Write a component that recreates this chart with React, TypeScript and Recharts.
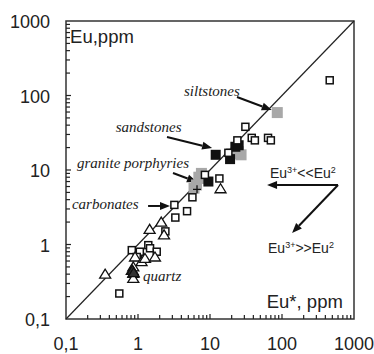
import React from 'react'
import {
  ScatterChart,
  Scatter,
  XAxis,
  YAxis,
  ReferenceLine,
  ReferenceDot,
  ReferenceArea,
} from 'recharts'

// axis ticks (log decades, minor ticks at 2..9)
const DECADES = [0.1, 1, 10, 100]
const STEPS = [1, 2, 3, 4, 5, 6, 7, 8, 9]
const MINOR = DECADES.flatMap((d) => STEPS.map((s) => +(d * s).toPrecision(3))).filter((v) => v !== 0.1)
const MAJOR = [0.1, 1, 10, 100, 1000]
const MAJOR_LABELS = ['0,1', '1', '10', '100', '1000']

// Eu* (x) vs Eu (y), ppm
const openSqX = [460, 31, 38, 42, 64, 70, 24, 18, 13.5, 8.5, 5.7, 3.2, 3.3, 4.8, 2.4, 1.39, 1.47, 1.82, 0.82, 1.06, 0.96, 0.55]
const openSqY = [160, 38, 27, 25, 27, 25, 25, 17, 7.7, 8.6, 4.3, 3.4, 2.3, 2.8, 1.5, 0.98, 0.89, 0.8, 0.84, 0.8, 0.68, 0.22]

const blackSqX = [12, 19, 22.5, 25, 9.5]
const blackSqY = [16, 14, 20.5, 21.5, 7]

const graySqX = [86, 24.7, 27, 20, 8, 7.6, 6.5, 6, 7]
const graySqY = [59, 17.6, 16, 16.5, 7.7, 9, 6.3, 5.7, 8]

const openTriX = [0.35, 1.45, 2.1, 2.3, 0.91, 1.12, 1.25, 1.72, 0.86, 0.82, 0.86, 0.86, 14]
const openTriY = [0.4, 1.6, 2.0, 1.35, 0.68, 0.59, 0.65, 0.68, 0.5, 0.45, 0.41, 0.35, 5.6]

const darkTriX = [0.84, 0.87]
const darkTriY = [0.45, 0.42]

const crossX = [6.6]
const crossY = [5.5]

const zip = (xs: number[], ys: number[]) => xs.map((x, i) => ({ x, y: ys[i] }))
const xTickData = MINOR.map((v) => ({ x: v, y: 0.1 }))
const yTickData = MINOR.map((v) => ({ x: 0.1, y: v }))

const SANS = 'Liberation Sans, Arial, sans-serif'
const SERIF = 'Liberation Serif, Times New Roman, serif'

const openSquare = ({ cx, cy }: any) => (
  <rect x={cx - 3.5} y={cy - 3.5} width={7} height={7} fill='#fff' stroke='#111' strokeWidth={1.5} />
)
const blackSquare = ({ cx, cy }: any) => (
  <rect x={cx - 5} y={cy - 5} width={10} height={10} fill='#111' />
)
const graySquare = ({ cx, cy }: any) => (
  <rect x={cx - 5.5} y={cy - 5.5} width={11} height={11} fill='#a8a8a8' />
)
const triangle = (fill: string) => ({ cx, cy }: any) => (
  <polygon
    points={`${cx},${cy - 5} ${cx - 5.5},${cy + 4} ${cx + 5.5},${cy + 4}`}
    fill={fill}
    stroke='#111'
    strokeWidth={1.3}
  />
)
const cross = ({ cx, cy }: any) => (
  <path d={`M${cx - 4},${cy}H${cx + 4}M${cx},${cy - 4}V${cy + 4}`} stroke='#111' strokeWidth={1.3} />
)

// inward tick marks on the bottom and left frame, drawn as point shapes
const xTickMark = ({ cx, cy, payload }: any) => {
  const len = MAJOR.includes(payload.x) ? 5 : 4
  return <rect x={cx - 0.6} y={cy - len} width={1.2} height={len} fill='#222' />
}
const yTickMark = ({ cx, cy, payload }: any) => {
  const len = MAJOR.includes(payload.y) ? 5 : 4
  return <rect x={cx} y={cy - 0.6} width={len} height={1.2} fill='#222' />
}

function XTick({ x, y, payload }: any) {
  const i = MAJOR.indexOf(payload.value)
  return (
    <text x={x} y={y + 31} textAnchor='middle' fontSize={18} fontFamily={SANS} fill='#222'>
      {MAJOR_LABELS[i]}
    </text>
  )
}

function YTick({ x, y, payload }: any) {
  const i = MAJOR.indexOf(payload.value)
  return (
    <text x={x - 16} y={y + 1} textAnchor='end' dominantBaseline='central' fontSize={18} fontFamily={SANS} fill='#222'>
      {MAJOR_LABELS[i]}
    </text>
  )
}

const arrow = (props: any) => {
  const { x1, y1, x2, y2 } = props
  const a = Math.atan2(y2 - y1, x2 - x1)
  const L = 10
  const W = 4
  const bx = x2 - L * Math.cos(a)
  const by = y2 - L * Math.sin(a)
  const px = -Math.sin(a) * W
  const py = Math.cos(a) * W
  return (
    <g>
      <line x1={x1} y1={y1} x2={bx} y2={by} stroke='#111' strokeWidth={2} />
      <polygon points={`${x2},${y2} ${bx + px},${by + py} ${bx - px},${by - py}`} fill='#111' />
    </g>
  )
}

const label = (text: React.ReactNode, opts: { anchor?: string; italic?: boolean; size?: number }) =>
  ({ cx, cy }: any) => (
    <text
      x={cx}
      y={cy}
      textAnchor={opts.anchor || 'start'}
      fontSize={opts.size || 15}
      fontFamily={opts.italic ? SERIF : SANS}
      fontStyle={opts.italic ? 'italic' : 'normal'}
      fill='#222'
    >
      {text}
    </text>
  )

const euLess = (
  <>
    Eu<tspan dy={-5} fontSize={9}>3+</tspan>
    <tspan dy={5}>{'<<Eu'}</tspan>
    <tspan dy={-5} fontSize={9}>2</tspan>
  </>
)
const euMore = (
  <>
    Eu<tspan dy={-5} fontSize={9}>3+</tspan>
    <tspan dy={5}>{'>>Eu'}</tspan>
    <tspan dy={-5} fontSize={9}>2</tspan>
  </>
)

export default function App() {
  return (
    <div style={{ position: 'absolute', left: 0, top: 0, background: '#fff' }}>
      <ScatterChart width={374} height={354} margin={{ top: 21, right: 20, left: 10, bottom: 0 }}>
        <XAxis
          type='number'
          dataKey='x'
          scale='log'
          domain={[0.1, 1000]}
          allowDataOverflow
          ticks={MAJOR}
          interval={0}
          tickSize={0}
          tickMargin={0}
          tickLine={false}
          axisLine={false}
          height={35}
          tick={<XTick />}
        />
        <YAxis
          type='number'
          dataKey='y'
          scale='log'
          domain={[0.1, 1000]}
          allowDataOverflow
          ticks={MAJOR}
          interval={0}
          tickSize={0}
          tickMargin={0}
          tickLine={false}
          axisLine={false}
          width={56}
          tick={<YTick />}
        />
        <ReferenceArea x1={0.1} x2={1000} y1={0.1} y2={1000} fill='none' stroke='#333' strokeWidth={1.5} />
        <ReferenceLine segment={[{ x: 0.1, y: 0.1 }, { x: 1000, y: 1000 }]} stroke='#222' strokeWidth={1.2} />

        <Scatter data={xTickData} shape={xTickMark} isAnimationActive={false} />
        <Scatter data={yTickData} shape={yTickMark} isAnimationActive={false} />

        <Scatter data={zip(graySqX, graySqY)} shape={graySquare} isAnimationActive={false} />
        <Scatter data={zip(blackSqX, blackSqY)} shape={blackSquare} isAnimationActive={false} />
        <Scatter data={zip(openSqX, openSqY)} shape={openSquare} isAnimationActive={false} />
        <Scatter data={zip(openTriX, openTriY)} shape={triangle('#fff')} isAnimationActive={false} />
        <Scatter data={zip(darkTriX, darkTriY)} shape={triangle('#333')} isAnimationActive={false} />
        <Scatter data={zip(crossX, crossY)} shape={cross} isAnimationActive={false} />

        {/* annotation arrows */}
        <ReferenceLine segment={[{ x: 23.7, y: 95.5 }, { x: 72, y: 64 }]} shape={arrow} />
        <ReferenceLine segment={[{ x: 2.53, y: 27.7 }, { x: 10.7, y: 19.7 }]} shape={arrow} />
        <ReferenceLine segment={[{ x: 3.06, y: 9.1 }, { x: 6.6, y: 6.9 }]} shape={arrow} />
        <ReferenceLine segment={[{ x: 1.38, y: 3.29 }, { x: 2.78, y: 3.29 }]} shape={arrow} />
        <ReferenceLine segment={[{ x: 600, y: 6.3 }, { x: 62, y: 6.3 }]} shape={arrow} />
        <ReferenceLine segment={[{ x: 600, y: 6.3 }, { x: 138, y: 1.43 }]} shape={arrow} />

        {/* annotation text */}
        <ReferenceDot x={0.114} y={507} shape={label('Eu,ppm', { size: 18.5 })} />
        <ReferenceDot x={700} y={0.14} shape={label('Eu*, ppm', { size: 18.5, anchor: 'end' })} />
        <ReferenceDot x={4.35} y={98} shape={label('siltstones', { italic: true })} />
        <ReferenceDot x={0.49} y={32.4} shape={label('sandstones', { italic: true })} />
        <ReferenceDot x={0.142} y={10.6} shape={label('granite porphyries', { italic: true })} />
        <ReferenceDot x={0.121} y={3.0} shape={label('carbonates', { italic: true })} />
        <ReferenceDot x={1.17} y={0.32} shape={label('quartz', { italic: true })} />
        <ReferenceDot x={68} y={7.8} shape={label(euLess, { size: 14 })} />
        <ReferenceDot x={64} y={0.77} shape={label(euMore, { size: 14 })} />
      </ScatterChart>
    </div>
  )
}
